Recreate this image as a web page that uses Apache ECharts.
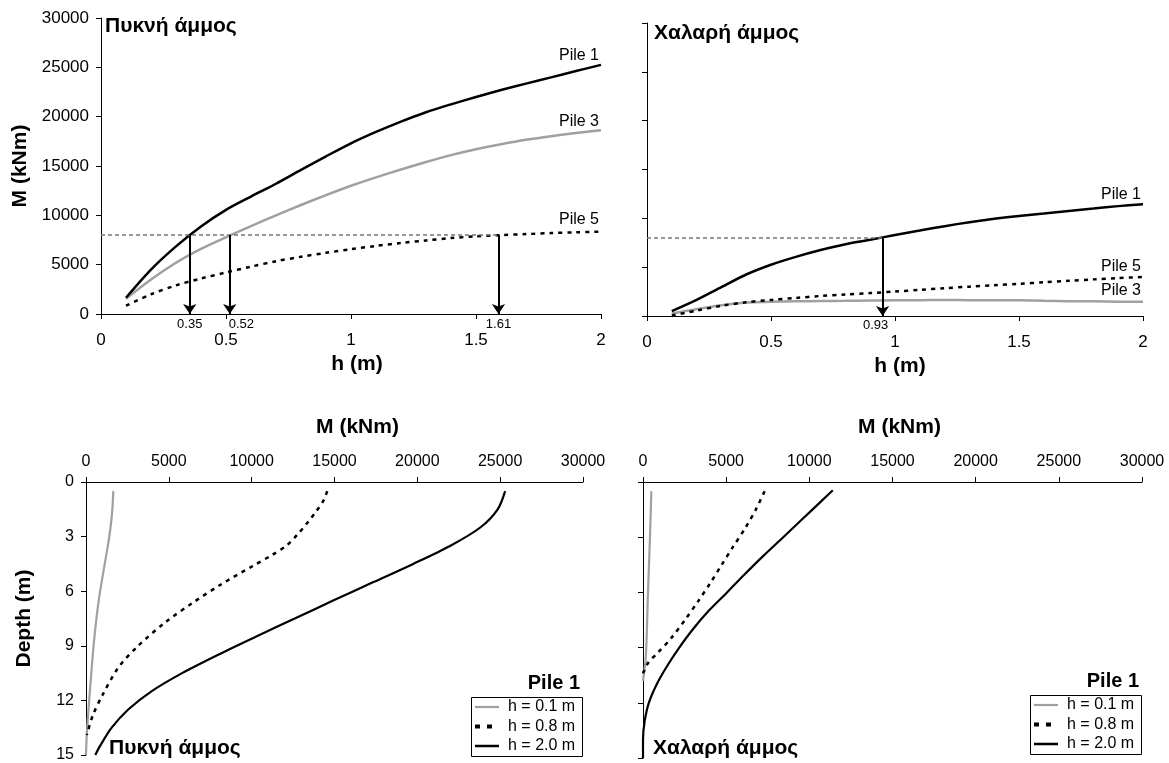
<!DOCTYPE html>
<html><head><meta charset="utf-8">
<script src="https://cdn.jsdelivr.net/npm/echarts@6/dist/echarts.min.js"></script>
<style>html,body{margin:0;padding:0;background:#fff}#c{width:1169px;height:763px}</style>
</head><body><div id="c"></div><script>
// ---------- DATA ----------
// Top charts: M (kNm) vs h (m)
const hTop = [0.1,0.2,0.3,0.4,0.5,0.6,0.7,0.8,0.9,1.0,1.1,1.2,1.3,1.4,1.5,1.6,1.7,1.8,1.9,2.0];
const denseP1 = [1650,4500,6850,8870,10550,11900,13200,14600,15980,17300,18450,19500,20450,21250,22000,22700,23350,23980,24620,25250];
const denseP3 = [1550,3500,5200,6600,7780,8900,10000,11050,12050,13000,13850,14650,15400,16100,16700,17200,17650,18020,18340,18620];
const denseP5 = [840,2000,2900,3600,4210,4800,5350,5800,6200,6570,6900,7200,7450,7700,7870,8000,8100,8200,8280,8350];
const looseP1 = [500,1650,2950,4250,5250,6050,6750,7350,7800,8300,8750,9200,9600,9950,10250,10500,10750,11000,11250,11450];
const looseP3 = [250,700,1100,1380,1450,1500,1530,1550,1580,1600,1620,1630,1620,1610,1600,1550,1520,1500,1470,1450];
const looseP5 = [50,550,1050,1400,1650,1850,2050,2200,2350,2500,2680,2850,3000,3150,3300,3450,3600,3750,3880,4000];
const pileNames = ['Pile 1','Pile 3','Pile 5'];
const threshold = 8000;
const denseCross = [0.355, 0.515, 1.59];
const denseCrossLabels = ['0.35','0.52','1.61'];
const looseCross = [0.95];
const looseCrossLabels = ['0.93'];

// Bottom charts: depth profiles of M for Pile 1
const dDense01 = [0.5,1.5,2.5,3.5,4.5,6.5,8.5,10.5,12.5,14,15];
const mDense01 = [1650,1590,1480,1320,1130,770,510,320,150,40,0];
const dDense08 = [0.5,1.0,1.6,2.2,2.9,3.5,4.0,4.6,5.6,6.6,7.7,9.0,10.2,11.7,12.8,13.9];
const mDense08 = [14560,14350,13900,13400,12750,12100,11250,10100,8200,6500,4800,3150,1950,1000,420,50];
const dDense20 = [0.5,1.5,2.5,3.5,4.5,5.5,6.5,7.5,8.5,9.5,10.5,11.5,12.5,13.5,14.5,15];
const mDense20 = [25300,24850,23800,22000,19750,17350,14950,12600,10250,7950,5800,3950,2550,1550,850,560];
const dLoose01 = [0.5,3,6,9.5,10.8];
const mLoose01 = [500,420,300,170,0];
const dLoose08 = [0.5,1.5,2.5,3.5,4.5,5.5,6.5,7.5,8.5,9.3,9.8,10.4];
const mLoose08 = [7310,6780,6150,5430,4730,4040,3300,2520,1680,870,330,0];
const dLoose20 = [0.45,1,2,3,4,5,6,7,8,9,10,11,12,13,14,15];
const mLoose20 = [11410,10770,9600,8430,7250,6130,5050,3950,3000,2180,1450,820,350,100,0,0];
const hNames = ['h = 0.1 m','h = 0.8 m','h = 2.0 m'];
const legendTitle = 'Pile 1';

// ---------- STYLE ----------
const FONT = 'Arial, "Liberation Sans", sans-serif';
const BLACK = {color:'#000', width:2.5, type:'solid'};
const GREY = {color:'#a0a0a0', width:2.5, type:'solid'};
const DOT = {color:'#000', width:2.5, type:[4,5]};
const B_GREY = {color:'#a0a0a0', width:2.2};
const B_DOT = {color:'#000', width:2.5, type:[4,5]};
const B_BLACK = {color:'#000', width:2.2};

const chart = echarts.init(document.getElementById('c'));

function axisBase(extra, lbl, nameShift){
  return Object.assign({
    type:'value',
    axisLine:{show:true, onZero:false, lineStyle:{color:'#000', width:1}},
    axisTick:{show:true, inside:false, length:5, lineStyle:{color:'#000', width:1}},
    splitLine:{show:false},
    axisLabel:Object.assign({color:'#000', fontFamily:FONT, fontSize:17, formatter: v => String(v)}, lbl||{}),
    nameTextStyle:{color:'#000', fontFamily:FONT, fontSize:21, fontWeight:'bold', padding:[0,0,0,nameShift||0]},
    nameLocation:'middle'
  }, extra);
}
function line(name, idx, data, style, extra){
  return Object.assign({
    type:'line', name, xAxisIndex:idx, yAxisIndex:idx, data,
    symbol:'none', showSymbol:false, smooth:0.3, silent:true,
    lineStyle:style, itemStyle:{color:style.color}
  }, extra||{});
}
const zip = (a,b) => a.map((v,i)=>[v,b[i]]);

function crossMarks(crossArr){
  return {
    silent:true, animation:false, symbol:['none','arrow'], symbolSize:10,
    label:{show:false},
    lineStyle:{color:'#000', width:2, type:'solid'},
    data: crossArr.map(h => [{coord:[h, threshold]},{coord:[h, 0]}])
  };
}
function threshMark(hEnd){
  return {
    silent:true, animation:false, symbol:['none','none'],
    label:{show:false},
    lineStyle:{color:'#777', width:1.5, type:[4,3]},
    data:[[{coord:[0, threshold]},{coord:[hEnd, threshold]}]]
  };
}

const option = {
  animation:false,
  backgroundColor:'#fff',
  textStyle:{fontFamily:FONT},
  grid:[
    {left:101, top:18, width:500, height:296},
    {left:647, top:23, width:496, height:293},
    {left:86, top:482, width:497, height:276},
    {left:643, top:482, width:499, height:276}
  ],
  xAxis:[
    axisBase({gridIndex:0, min:0, max:2, interval:0.5, name:'h (m)', nameGap:40}, {margin:18}, 12),
    axisBase({gridIndex:1, min:0, max:2, interval:0.5, name:'h (m)', nameGap:40}, {margin:18}, 10),
    axisBase({gridIndex:2, position:'top', min:0, max:30000, interval:5000, name:'M (kNm)', nameGap:44}, {fontSize:16, margin:12}, 46),
    axisBase({gridIndex:3, position:'top', min:0, max:30000, interval:5000, name:'M (kNm)', nameGap:44}, {fontSize:16, margin:12}, 14)
  ],
  yAxis:[
    axisBase({gridIndex:0, min:0, max:30000, interval:5000, name:'M (kNm)', nameGap:70}, {margin:12}),
    axisBase({gridIndex:1, min:0, max:30000, interval:5000}, {show:false}),
    axisBase({gridIndex:2, inverse:true, min:0, max:15, interval:3, name:'Depth (m)', nameGap:51}, {fontSize:16, margin:12}),
    axisBase({gridIndex:3, inverse:true, min:0, max:15, interval:3}, {show:false})
  ],
  series:[
    line(pileNames[0]+' dense', 0, zip(hTop, denseP1), BLACK, {markLine: threshMark(denseCross[2]), z:3}),
    line(pileNames[1]+' dense', 0, zip(hTop, denseP3), GREY, {markLine: crossMarks(denseCross), z:2}),
    line(pileNames[2]+' dense', 0, zip(hTop, denseP5), DOT, {z:2}),
    line(pileNames[0]+' loose', 1, zip(hTop, looseP1), BLACK, {markLine: threshMark(looseCross[0]), z:3}),
    line(pileNames[1]+' loose', 1, zip(hTop, looseP3), GREY, {markLine: crossMarks(looseCross), z:2}),
    line(pileNames[2]+' loose', 1, zip(hTop, looseP5), DOT, {z:2}),
    line(hNames[0], 2, zip(mDense01, dDense01), B_GREY),
    line(hNames[1], 2, zip(mDense08, dDense08), B_DOT),
    line(hNames[2], 2, zip(mDense20, dDense20), B_BLACK),
    line(hNames[0], 3, zip(mLoose01, dLoose01), B_GREY),
    line(hNames[1], 3, zip(mLoose08, dLoose08), B_DOT),
    line(hNames[2], 3, zip(mLoose20, dLoose20), B_BLACK)
  ]
};
chart.setOption(option);

// ---------- annotations ----------
const g = [];
function txt(x, y, text, size, bold, align){
  g.push({type:'text', x, y, silent:true, z:100, style:{text, fontFamily:FONT, fontSize:size, fontWeight:bold?'bold':'normal', fill:'#000', align:align||'left', verticalAlign:'middle'}});
}
// panel titles
txt(105, 26, 'Πυκνή άμμος', 21, true);
txt(654, 33, 'Χαλαρή άμμος', 21, true);
txt(109, 748, 'Πυκνή άμμος', 21, true);
txt(653, 748, 'Χαλαρή άμμος', 21, true);

// legends (box + samples)
const legendStyles = [B_GREY, {color:'#000', width:4, type:[5,7]}, {color:'#000', width:2.5}];
[[471, 697], [1030, 695]].forEach(([lx, ly]) => {
  const w = 111, h = 59;
  txt(lx + w - 2, ly - 14, legendTitle, 20, true, 'right');
  g.push({type:'rect', silent:true, z:90, shape:{x:lx+0.5, y:ly+0.5, width:w, height:h}, style:{fill:'#fff', stroke:'#000', lineWidth:1}});
  hNames.forEach((nm, i) => {
    const yy = ly + 10 + i * 19.5;
    const st = legendStyles[i];
    g.push({type:'line', silent:true, z:95, shape:{x1:lx+4, y1:yy, x2:lx+28, y2:yy},
      style:{stroke:st.color, lineWidth:st.width, lineDash: Array.isArray(st.type) ? st.type : null}});
    txt(lx + 37, yy, nm, 16, false, 'left');
  });
});

// pile labels at line ends
const lastIdx = hTop.length - 1;
[[0,denseP1,pileNames[0],-9],[0,denseP3,pileNames[1],-9],[0,denseP5,pileNames[2],-12],
 [1,looseP1,pileNames[0],-10],[1,looseP5,pileNames[2],-10],[1,looseP3,pileNames[1],-11]].forEach(([gi,arr,name,dy])=>{
  const p = chart.convertToPixel({xAxisIndex:gi, yAxisIndex:gi}, [hTop[lastIdx], arr[lastIdx]]);
  txt(p[0]-2, p[1]+dy, name, 16, false, 'right');
});
// arrow value labels
denseCross.forEach((h,i)=>{
  const p = chart.convertToPixel({xAxisIndex:0, yAxisIndex:0}, [h, 0]);
  if (i === 1) txt(p[0]-1, p[1]+10, denseCrossLabels[i], 13, false, 'left');
  else txt(p[0], p[1]+10, denseCrossLabels[i], 13, false, 'center');
});
looseCross.forEach((h,i)=>{
  const p = chart.convertToPixel({xAxisIndex:1, yAxisIndex:1}, [h, 0]);
  txt(p[0]-7, p[1]+9, looseCrossLabels[i], 13, false, 'center');
});
chart.setOption({graphic: g});
</script></body></html>
